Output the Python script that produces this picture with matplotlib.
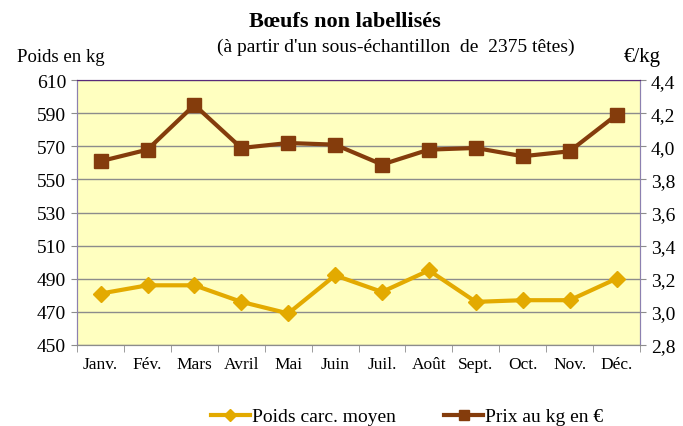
import matplotlib
matplotlib.use("Agg")
from matplotlib import pyplot as plt
from matplotlib.ticker import FixedLocator, NullFormatter

plt.rcParams['font.family'] = ['Liberation Serif', 'DejaVu Serif']

mois = ["Janv.", "Fév.", "Mars", "Avril", "Mai", "Juin", "Juil.", "Août",
        "Sept.", "Oct.", "Nov.", "Déc."]
poids = [481, 486, 486, 476, 469, 492, 482, 495, 476, 477, 477, 490]
prix = [3.91, 3.98, 4.25, 3.99, 4.02, 4.01, 3.89, 3.98, 3.99, 3.94, 3.97, 4.19]

jaune = "#E3AA00"
brun = "#843C0C"

fig = plt.figure(figsize=(6.83, 4.27), dpi=100)
ax = fig.add_axes([0.113, 0.19, 0.824, 0.62])
ax.set_facecolor("#FFFFC0")
x = list(range(len(mois)))

ax.set_ylim(450, 610)
ax.set_yticks(range(450, 611, 20))
ax.set_xlim(-0.5, len(mois) - 0.5)
ax.yaxis.grid(True, color="#8C8C8C", lw=1)
ax.set_axisbelow(True)
l1, = ax.plot(x, poids, color=jaune, lw=3, marker="D", ms=8.5, label="Poids carc. moyen")

ax2 = ax.twinx()
ax2.set_ylim(2.8, 4.4)
ticks2 = [2.8 + 0.2 * i for i in range(9)]
ax2.set_yticks(ticks2)
ax2.set_yticklabels([("%.1f" % t).replace(".", ",") for t in ticks2])
l2, = ax2.plot(x, prix, color=brun, lw=3, marker="s", ms=10, label="Prix au kg en €")

ax.set_xticks(x)
ax.set_xticklabels(mois, fontsize=12.5)
ax.tick_params(axis="x", length=0, pad=8)
ax.xaxis.set_minor_locator(FixedLocator([i - 0.5 for i in range(len(mois) + 1)]))
ax.xaxis.set_minor_formatter(NullFormatter())
ax.tick_params(axis="x", which="minor", length=5, color="#8C8C8C")
ax.tick_params(axis="y", labelsize=14, length=4, color="#8C8C8C", pad=4)
ax2.tick_params(axis="y", labelsize=14, length=4, color="#8C8C8C", pad=4)

for a in (ax, ax2):
    for s in a.spines.values():
        s.set_color("#8C8C8C")
ax2.spines["top"].set_color("#5A2A7A")
ax2.spines["right"].set_color("#8C80B0")
ax2.spines["left"].set_color("#8C80B0")

fig.text(0.505, 0.948, "Bœufs non labellisés", ha="center", va="center",
         fontsize=16, fontweight="bold")
fig.text(0.579, 0.89, "(à partir d'un sous-échantillon  de  2375 têtes)", ha="center",
         va="center", fontsize=14)
fig.text(0.025, 0.866, "Poids en kg", ha="left", va="center", fontsize=13.5)
fig.text(0.968, 0.866, "€/kg", ha="right", va="center", fontsize=15)

fig.legend([l1, l2], ["Poids carc. moyen", "Prix au kg en €"], loc="center",
           bbox_to_anchor=(0.596, 0.022), ncol=2, frameon=False, fontsize=14,
           handlelength=2.0, handletextpad=0.1, columnspacing=2.5, markerscale=0.75)

fig.savefig("out.png", dpi=100)
